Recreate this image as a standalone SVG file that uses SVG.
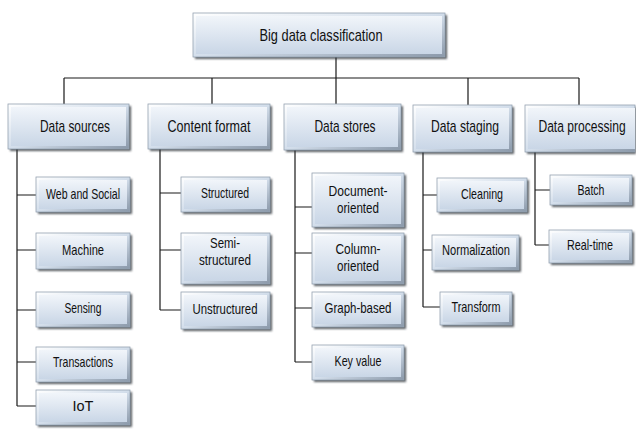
<svg xmlns="http://www.w3.org/2000/svg" width="636" height="433" viewBox="0 0 636 433">
<defs>
<linearGradient id="rim" x1="0" y1="0" x2="1" y2="1">
<stop offset="0" stop-color="#ffffff"/>
<stop offset="0.5" stop-color="#d3deeb"/>
<stop offset="1" stop-color="#8a98a9"/>
</linearGradient>
<linearGradient id="face" x1="0" y1="0" x2="0" y2="1">
<stop offset="0" stop-color="#f1f5fa"/>
<stop offset="1" stop-color="#c9d6e6"/>
</linearGradient>
<filter id="blur" x="-10%" y="-10%" width="130%" height="140%">
<feGaussianBlur stdDeviation="1"/>
</filter>
</defs>
<style>
.sh{fill:#2f343a;opacity:0.8;filter:url(#blur)}
.rim{fill:url(#rim);stroke:#95a2b1;stroke-width:0.8}
.face{fill:url(#face)}
.t1{font-family:"Liberation Sans",Arial,sans-serif;font-size:17px;fill:#111;text-anchor:middle;dominant-baseline:central}
.t2{font-family:"Liberation Sans",Arial,sans-serif;font-size:14.5px;fill:#111;text-anchor:middle;dominant-baseline:central}
.c{stroke:#1a1a1a;stroke-width:1.2;fill:none}
</style>
<rect width="636" height="433" fill="#ffffff"/>
<g id="connectors">
<path class="c" d="M336 57V78M64 78H579M64 78V104M212 78V104M336 78V104M468 78V105M579 78V105"/>
<path class="c" d="M17 149V406M17 195H36M17 250H36M17 310H36M17 362H36M17 406H36"/>
<path class="c" d="M160 149V310M160 193H181M160 250H181M160 310H181"/>
<path class="c" d="M295 150V362M295 207H312M295 253H312M295 308H312M295 362H312"/>
<path class="c" d="M423 152V307M423 195H437M423 250H432M423 307H440"/>
<path class="c" d="M535 152V245M535 190H550M535 245H549"/>
</g>
<g id="root">
<rect class="sh" x="195" y="15" width="252" height="44"/>
<rect class="rim" x="193" y="13" width="252" height="44"/>
<rect class="face" x="196" y="16" width="246" height="38"/>
<text class="t1" x="321" y="35" font-size="18" textLength="123" lengthAdjust="spacingAndGlyphs">Big data classification</text>
</g>
<g id="data-sources">
<rect class="sh" x="10" y="106" width="121" height="45"/>
<rect class="rim" x="8" y="104" width="121" height="45"/>
<rect class="face" x="11" y="107" width="115" height="39"/>
<text class="t1" x="75" y="126" textLength="70" lengthAdjust="spacingAndGlyphs">Data sources</text>
</g>
<g id="content-format">
<rect class="sh" x="150" y="106" width="122" height="45"/>
<rect class="rim" x="148" y="104" width="122" height="45"/>
<rect class="face" x="151" y="107" width="116" height="39"/>
<text class="t1" x="209" y="126" textLength="83" lengthAdjust="spacingAndGlyphs">Content format</text>
</g>
<g id="data-stores">
<rect class="sh" x="286" y="106" width="117" height="46"/>
<rect class="rim" x="284" y="104" width="117" height="46"/>
<rect class="face" x="287" y="107" width="111" height="40"/>
<text class="t1" x="345" y="126" textLength="61" lengthAdjust="spacingAndGlyphs">Data stores</text>
</g>
<g id="data-staging">
<rect class="sh" x="415" y="107" width="99" height="47"/>
<rect class="rim" x="413" y="105" width="99" height="47"/>
<rect class="face" x="416" y="108" width="93" height="41"/>
<text class="t1" x="465" y="126" textLength="68" lengthAdjust="spacingAndGlyphs">Data staging</text>
</g>
<g id="data-processing">
<rect class="sh" x="527" y="107" width="109" height="47"/>
<rect class="rim" x="525" y="105" width="110" height="47"/>
<rect class="face" x="528" y="108" width="107" height="41"/>
<text class="t1" transform="translate(582 126) scale(0.71 1)" x="0" y="0">Data processing</text>
</g>
<g id="web-and-social">
<rect class="sh" x="38" y="179" width="94" height="35"/>
<rect class="rim" x="36" y="177" width="94" height="35"/>
<rect class="face" x="39" y="180" width="88" height="29"/>
<text class="t2" x="83" y="194" textLength="74" lengthAdjust="spacingAndGlyphs">Web and Social</text>
</g>
<g id="machine">
<rect class="sh" x="38" y="235" width="94" height="36"/>
<rect class="rim" x="36" y="233" width="94" height="36"/>
<rect class="face" x="39" y="236" width="88" height="30"/>
<text class="t2" x="83" y="250" textLength="42" lengthAdjust="spacingAndGlyphs">Machine</text>
</g>
<g id="sensing">
<rect class="sh" x="38" y="294" width="94" height="35"/>
<rect class="rim" x="36" y="292" width="94" height="35"/>
<rect class="face" x="39" y="295" width="88" height="29"/>
<text class="t2" x="83" y="308" textLength="37" lengthAdjust="spacingAndGlyphs">Sensing</text>
</g>
<g id="transactions">
<rect class="sh" x="38" y="349" width="94" height="35"/>
<rect class="rim" x="36" y="347" width="94" height="35"/>
<rect class="face" x="39" y="350" width="88" height="29"/>
<text class="t2" x="83" y="362" textLength="60" lengthAdjust="spacingAndGlyphs">Transactions</text>
</g>
<g id="iot">
<rect class="sh" x="38" y="392" width="94" height="35"/>
<rect class="rim" x="36" y="390" width="94" height="35"/>
<rect class="face" x="39" y="393" width="88" height="29"/>
<text class="t2" x="83" y="406">IoT</text>
</g>
<g id="structured">
<rect class="sh" x="183" y="179" width="89" height="35"/>
<rect class="rim" x="181" y="177" width="89" height="35"/>
<rect class="face" x="184" y="180" width="83" height="29"/>
<text class="t2" x="225" y="193" textLength="48" lengthAdjust="spacingAndGlyphs">Structured</text>
</g>
<g id="semi-structured">
<rect class="sh" x="183" y="235" width="89" height="51"/>
<rect class="rim" x="181" y="233" width="89" height="51"/>
<rect class="face" x="184" y="236" width="83" height="45"/>
<text class="t2" x="225" y="251"><tspan x="225" dy="-8" textLength="30" lengthAdjust="spacingAndGlyphs">Semi-</tspan><tspan x="225" dy="17" textLength="52" lengthAdjust="spacingAndGlyphs">structured</tspan></text>
</g>
<g id="unstructured">
<rect class="sh" x="183" y="294" width="89" height="37"/>
<rect class="rim" x="181" y="292" width="89" height="37"/>
<rect class="face" x="184" y="295" width="83" height="31"/>
<text class="t2" x="225" y="309" textLength="65" lengthAdjust="spacingAndGlyphs">Unstructured</text>
</g>
<g id="document-oriented">
<rect class="sh" x="314" y="175" width="92" height="54"/>
<rect class="rim" x="312" y="173" width="92" height="54"/>
<rect class="face" x="315" y="176" width="86" height="48"/>
<text class="t2" x="358" y="199"><tspan x="358" dy="-8" textLength="59" lengthAdjust="spacingAndGlyphs">Document-</tspan><tspan x="358" dy="17" textLength="42" lengthAdjust="spacingAndGlyphs">oriented</tspan></text>
</g>
<g id="column-oriented">
<rect class="sh" x="314" y="235" width="92" height="51"/>
<rect class="rim" x="312" y="233" width="92" height="51"/>
<rect class="face" x="315" y="236" width="86" height="45"/>
<text class="t2" x="358" y="257"><tspan x="358" dy="-8" textLength="45" lengthAdjust="spacingAndGlyphs">Column-</tspan><tspan x="358" dy="17" textLength="42" lengthAdjust="spacingAndGlyphs">oriented</tspan></text>
</g>
<g id="graph-based">
<rect class="sh" x="314" y="294" width="92" height="35"/>
<rect class="rim" x="312" y="292" width="92" height="35"/>
<rect class="face" x="315" y="295" width="86" height="29"/>
<text class="t2" x="358" y="308" textLength="67" lengthAdjust="spacingAndGlyphs">Graph-based</text>
</g>
<g id="key-value">
<rect class="sh" x="314" y="347" width="92" height="35"/>
<rect class="rim" x="312" y="345" width="92" height="35"/>
<rect class="face" x="315" y="348" width="86" height="29"/>
<text class="t2" x="358" y="361" textLength="47" lengthAdjust="spacingAndGlyphs">Key value</text>
</g>
<g id="cleaning">
<rect class="sh" x="439" y="180" width="90" height="34"/>
<rect class="rim" x="437" y="178" width="90" height="34"/>
<rect class="face" x="440" y="181" width="84" height="28"/>
<text class="t2" x="482" y="194" textLength="42" lengthAdjust="spacingAndGlyphs">Cleaning</text>
</g>
<g id="normalization">
<rect class="sh" x="434" y="237" width="87" height="35"/>
<rect class="rim" x="432" y="235" width="87" height="35"/>
<rect class="face" x="435" y="238" width="81" height="29"/>
<text class="t2" x="476" y="250" textLength="68" lengthAdjust="spacingAndGlyphs">Normalization</text>
</g>
<g id="transform">
<rect class="sh" x="442" y="294" width="72" height="33"/>
<rect class="rim" x="440" y="292" width="72" height="33"/>
<rect class="face" x="443" y="295" width="66" height="27"/>
<text class="t2" x="476" y="307" textLength="49" lengthAdjust="spacingAndGlyphs">Transform</text>
</g>
<g id="batch">
<rect class="sh" x="552" y="177" width="82" height="30"/>
<rect class="rim" x="550" y="175" width="82" height="30"/>
<rect class="face" x="553" y="178" width="76" height="24"/>
<text class="t2" x="591" y="190" textLength="27" lengthAdjust="spacingAndGlyphs">Batch</text>
</g>
<g id="real-time">
<rect class="sh" x="551" y="232" width="83" height="33"/>
<rect class="rim" x="549" y="230" width="83" height="33"/>
<rect class="face" x="552" y="233" width="77" height="27"/>
<text class="t2" x="590" y="245" textLength="46" lengthAdjust="spacingAndGlyphs">Real-time</text>
</g>
</svg>
